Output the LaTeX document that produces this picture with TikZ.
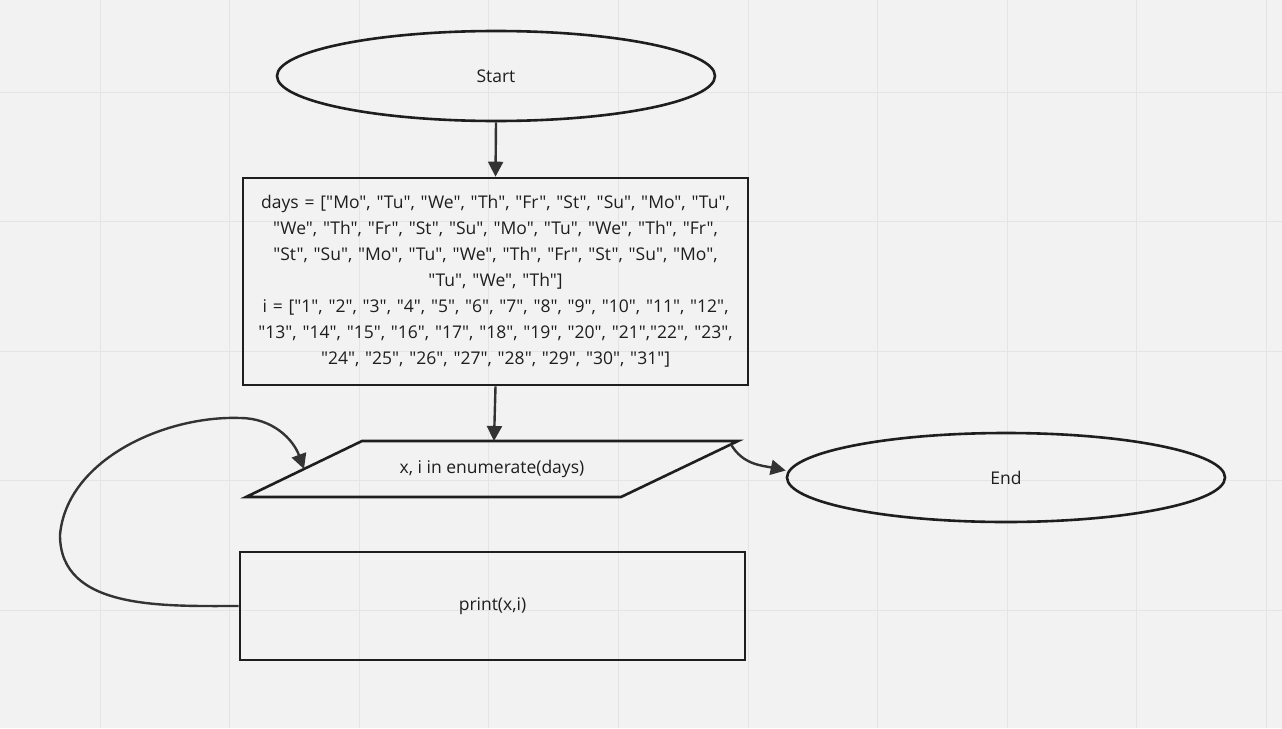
\documentclass[tikz,border=0pt]{standalone}
\usepackage{fontspec}
\newfontfamily\miro{Open Sans}
\usetikzlibrary{arrows.meta,positioning,shapes.geometric,calc}
\definecolor{canvas}{HTML}{F2F2F2}
\definecolor{gridline}{HTML}{E4E4E4}
\definecolor{ink}{HTML}{1E1E1E}
\definecolor{wire}{HTML}{333333}

\begin{document}
\begin{tikzpicture}[
  x=1pt, y=-1pt,
  font=\miro\fontsize{17.5}{26}\selectfont,
  text=ink,
  terminal/.style={ellipse, draw=ink, line width=2.6pt, inner sep=0pt,
                   minimum width=438pt, minimum height=90pt},
  procbox/.style={rectangle, draw=ink, line width=2.6pt, align=center,
                  inner sep=0pt},
  ioframe/.style={rectangle, inner sep=0pt, outer sep=0pt,
                  minimum width=492pt, minimum height=56pt},
  arr/.style={-{Triangle[width=15pt,length=15pt]}, draw=wire, line width=2.4pt}
]
\useasboundingbox (0,0) rectangle (1282,728);
\fill[canvas] (0,0) rectangle (1282,728);
\foreach \gx in {100,229.6,...,1270}
  \draw[gridline, line width=1pt] (\gx,0) -- (\gx,728);
\foreach \gy in {92,221.6,...,728}
  \draw[gridline, line width=1pt] (0,\gy) -- (1282,\gy);

\node[terminal] (start) at (496,76) {Start};
\node[procbox, minimum width=505pt, minimum height=207pt, text width=495pt] (init) at (495.5,281.5)
  {days = ["Mo", "Tu", "We", "Th", "Fr", "St", "Su", "Mo", "Tu",\\
   "We", "Th", "Fr", "St", "Su", "Mo", "Tu", "We", "Th", "Fr",\\
   "St", "Su", "Mo", "Tu", "We", "Th", "Fr", "St", "Su", "Mo",\\
   "Tu", "We", "Th"]\\
   i = ["1", "2", "3", "4", "5", "6", "7", "8", "9", "10", "11", "12",\\
   "13", "14", "15", "16", "17", "18", "19", "20", "21","22", "23",\\
   "24", "25", "26", "27", "28", "29", "30", "31"]};
\node[ioframe] (loop) at (492,469) {x, i in enumerate(days)};
\draw[ink, line width=2.6pt, line join=miter]
  ([xshift=116pt]loop.north west) -- (loop.north east)
  -- ([xshift=-117pt]loop.south east) -- (loop.south west) -- cycle;
\node[terminal, minimum height=89pt] (end) at (1006,477.5) {End};
\node[procbox, minimum width=505pt, minimum height=108pt] (body) at (492.5,606) {print(x,i)};

\coordinate (exit) at ($(loop.north east)!0.06!([xshift=-117pt]loop.south east)$);
\coordinate (back) at ($(loop.south west)!0.5!([xshift=116pt]loop.north west)$);

\draw[arr] (start.south) -- (init.north);
\draw[arr] (init.south) -- ([xshift=2pt]loop.north);
\draw[arr] (exit) to[out=-60,in=168] ([yshift=7pt]end.west);
% loop back from the body to the for-each
\draw[arr] (body.west) to[out=180,in=-90] (60,535)
  to[out=85,in=178,looseness=0.9] (240,418) to[out=0,in=110] (back);
\end{tikzpicture}
\end{document}
